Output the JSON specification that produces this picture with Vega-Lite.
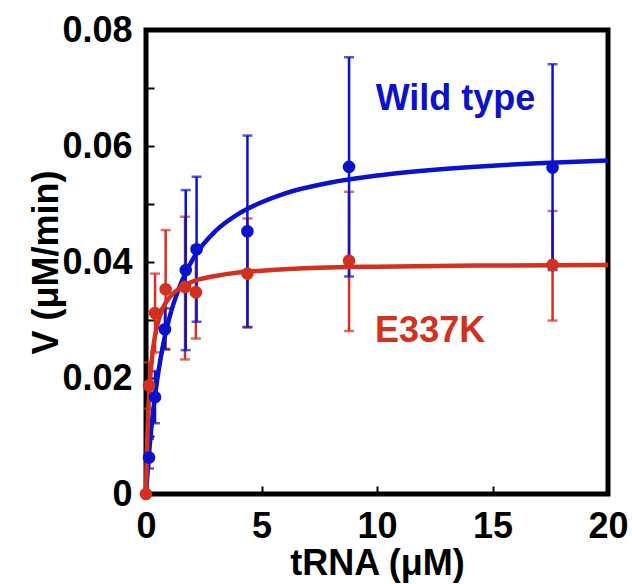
{
  "$schema": "https://vega.github.io/schema/vega-lite/v6.json",
  "width": 462,
  "height": 464,
  "autosize": {"type": "none"},
  "padding": {"left": 146, "top": 30, "right": 24, "bottom": 90},
  "background": "white",
  "view": {"stroke": "black", "strokeWidth": 5},
  "config": {
    "font": "Liberation Sans",
    "axis": {
      "domain": false,
      "grid": false,
      "tickSize": -8,
      "tickWidth": 2,
      "tickColor": "black",
      "labelFont": "Liberation Sans",
      "labelFontWeight": "bold",
      "labelFontSize": 36,
      "labelColor": "black",
      "labelFlush": false,
      "labelOverlap": false,
      "titleFont": "Liberation Sans",
      "titleFontWeight": "bold",
      "titleFontSize": 36,
      "titleColor": "black"
    }
  },
  "datasets": {
    "pts": [
      {"series": "Wild type", "x": 0.13, "v": 0.0063, "lo": 0.0044, "hi": 0.0095},
      {"series": "Wild type", "x": 0.39, "v": 0.0167, "lo": 0.0122, "hi": 0.0212},
      {"series": "Wild type", "x": 0.82, "v": 0.0284, "lo": 0.0250, "hi": 0.0320},
      {"series": "Wild type", "x": 1.72, "v": 0.0386, "lo": 0.0248, "hi": 0.0524},
      {"series": "Wild type", "x": 2.19, "v": 0.0422, "lo": 0.0297, "hi": 0.0547},
      {"series": "Wild type", "x": 4.39, "v": 0.0453, "lo": 0.0288, "hi": 0.0618},
      {"series": "Wild type", "x": 8.79, "v": 0.0564, "lo": 0.0375, "hi": 0.0753},
      {"series": "Wild type", "x": 17.6, "v": 0.0563, "lo": 0.0386, "hi": 0.0741},
      {"series": "E337K", "x": 0, "v": 0, "lo": null, "hi": null},
      {"series": "E337K", "x": 0.13, "v": 0.0187, "lo": 0.0147, "hi": 0.0227},
      {"series": "E337K", "x": 0.39, "v": 0.0312, "lo": 0.0244, "hi": 0.0380},
      {"series": "E337K", "x": 0.85, "v": 0.0353, "lo": 0.0249, "hi": 0.0455},
      {"series": "E337K", "x": 1.69, "v": 0.0357, "lo": 0.0232, "hi": 0.0478},
      {"series": "E337K", "x": 2.16, "v": 0.0348, "lo": 0.0268, "hi": 0.0428},
      {"series": "E337K", "x": 4.39, "v": 0.0380, "lo": 0.0287, "hi": 0.0475},
      {"series": "E337K", "x": 8.79, "v": 0.0402, "lo": 0.0281, "hi": 0.0521},
      {"series": "E337K", "x": 17.6, "v": 0.0395, "lo": 0.0299, "hi": 0.0488}
    ],
    "curve": [
      {"series": "Wild type", "x": 0, "v": 0},
      {"series": "Wild type", "x": 0.1, "v": 0.0055},
      {"series": "Wild type", "x": 0.25, "v": 0.0121},
      {"series": "Wild type", "x": 0.5, "v": 0.0201},
      {"series": "Wild type", "x": 0.75, "v": 0.0259},
      {"series": "Wild type", "x": 1, "v": 0.0302},
      {"series": "Wild type", "x": 1.5, "v": 0.0362},
      {"series": "Wild type", "x": 2, "v": 0.0403},
      {"series": "Wild type", "x": 3, "v": 0.0453},
      {"series": "Wild type", "x": 4, "v": 0.0483},
      {"series": "Wild type", "x": 5, "v": 0.0503},
      {"series": "Wild type", "x": 6, "v": 0.0518},
      {"series": "Wild type", "x": 8, "v": 0.0537},
      {"series": "Wild type", "x": 10, "v": 0.0549},
      {"series": "Wild type", "x": 12.5, "v": 0.0559},
      {"series": "Wild type", "x": 15, "v": 0.0566},
      {"series": "Wild type", "x": 17.5, "v": 0.0571},
      {"series": "Wild type", "x": 20, "v": 0.0575},
      {"series": "E337K", "x": 0, "v": 0},
      {"series": "E337K", "x": 0.05, "v": 0.0087},
      {"series": "E337K", "x": 0.1, "v": 0.0143},
      {"series": "E337K", "x": 0.2, "v": 0.0210},
      {"series": "E337K", "x": 0.3, "v": 0.0249},
      {"series": "E337K", "x": 0.5, "v": 0.0293},
      {"series": "E337K", "x": 0.75, "v": 0.0322},
      {"series": "E337K", "x": 1, "v": 0.0338},
      {"series": "E337K", "x": 1.5, "v": 0.0356},
      {"series": "E337K", "x": 2, "v": 0.0366},
      {"series": "E337K", "x": 3, "v": 0.0376},
      {"series": "E337K", "x": 4, "v": 0.0382},
      {"series": "E337K", "x": 5, "v": 0.0385},
      {"series": "E337K", "x": 7.5, "v": 0.0390},
      {"series": "E337K", "x": 10, "v": 0.0392},
      {"series": "E337K", "x": 15, "v": 0.0394},
      {"series": "E337K", "x": 20, "v": 0.0395}
    ],
    "labels": [
      {"series": "Wild type", "x": 13.4, "v": 0.0681, "text": "Wild type"},
      {"series": "E337K", "x": 12.3, "v": 0.0281, "text": "E337K"}
    ]
  },
  "encoding": {
    "x": {
      "field": "x", "type": "quantitative",
      "scale": {"domain": [0, 20], "nice": false, "zero": false},
      "axis": {"values": [0, 5, 10, 15, 20], "format": "d", "title": "tRNA (μM)", "labelPadding": 23, "titlePadding": 2}
    },
    "y": {
      "field": "v", "type": "quantitative",
      "scale": {"domain": [0, 0.08], "nice": false, "zero": false},
      "axis": {
        "values": [0, 0.01, 0.02, 0.03, 0.04, 0.05, 0.06, 0.07, 0.08],
        "labelExpr": "datum.value == 0 ? '0' : (round(datum.value * 100) % 2 == 0 ? format(datum.value, '.2f') : '')",
        "labelBaseline": "middle",
        "labelPadding": 22,
        "title": "V (μM/min)",
        "titlePadding": -4
      }
    },
    "color": {
      "field": "series", "type": "nominal",
      "scale": {"domain": ["Wild type", "E337K"], "range": ["#0a12cc", "#d3301f"]},
      "legend": null
    }
  },
  "layer": [
    {
      "data": {"name": "pts"},
      "transform": [{"filter": "datum.series == 'E337K' && datum.lo != null"}],
      "mark": {"type": "errorbar", "ticks": {"size": 10, "thickness": 2.5}, "thickness": 2.5},
      "encoding": {"y": {"field": "lo", "type": "quantitative"}, "y2": {"field": "hi"}}
    },
    {
      "data": {"name": "pts"},
      "transform": [{"filter": "datum.series == 'Wild type' && datum.lo != null"}],
      "mark": {"type": "errorbar", "ticks": {"size": 10, "thickness": 2.5}, "thickness": 2.5},
      "encoding": {"y": {"field": "lo", "type": "quantitative"}, "y2": {"field": "hi"}}
    },
    {
      "data": {"name": "curve"},
      "mark": {"type": "line", "strokeWidth": 4.5, "interpolate": "monotone"},
      "encoding": {"detail": {"field": "series"}}
    },
    {
      "data": {"name": "pts"},
      "mark": {"type": "circle", "size": 160, "opacity": 1},
      "encoding": {}
    },
    {
      "data": {"name": "labels"},
      "mark": {"type": "text", "font": "Liberation Sans", "fontWeight": "bold", "fontSize": 36, "align": "center", "baseline": "middle"},
      "encoding": {"text": {"field": "text"}}
    }
  ]
}
